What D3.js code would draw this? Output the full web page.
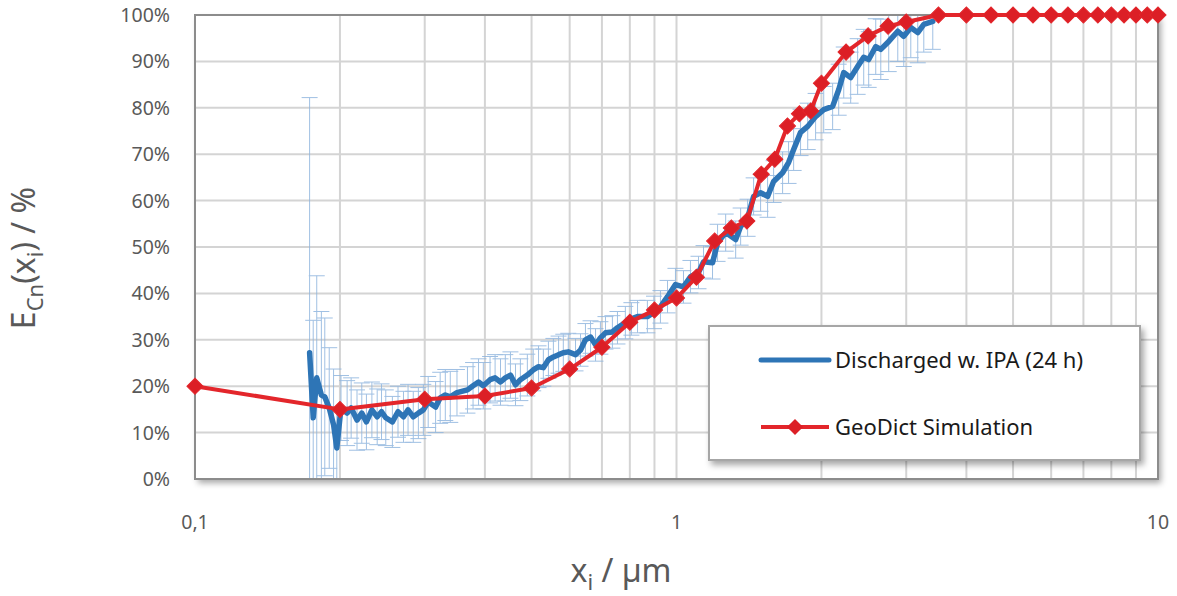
<!DOCTYPE html>
<html>
<head>
<meta charset="utf-8">
<script src="https://cdn.jsdelivr.net/npm/d3@7"></script>
<style>
  body { margin: 0; background: #fff; }
  text { font-family: "Noto Sans", "Open Sans", sans-serif; }
</style>
</head>
<body>
<div id="chart"></div>
<script>
// Measured data: Discharged w. IPA (24 h)
var measX = [0.173,0.176,0.179,0.183,0.186,0.190,0.194,0.197,0.201,0.207,0.211,0.217,0.222,0.227,0.233,0.239,0.244,0.249,0.257,0.264,0.271,0.277,0.284,0.291,0.298,0.305,0.316,0.323,0.331,0.339,0.350,0.368,0.378,0.388,0.397,0.410,0.420,0.431,0.441,0.452,0.463,0.474,0.490,0.504,0.517,0.529,0.542,0.555,0.569,0.582,0.596,0.617,0.632,0.647,0.663,0.679,0.695,0.712,0.736,0.754,0.783,0.806,0.830,0.870,0.898,0.926,0.958,0.995,1.034,1.069,1.111,1.138,1.188,1.217,1.265,1.327,1.359,1.405,1.446,1.495,1.546,1.591,1.661,1.709,1.751,1.810,1.873,1.945,2.022,2.110,2.172,2.225,2.300,2.378,2.448,2.507,2.593,2.656,2.759,2.881,2.965,3.066,3.170,3.263,3.406];
var measY = [27.2,13.2,21.8,18.1,17.7,15.3,11.7,6.7,15.3,14.2,15.3,12.7,14.2,12.3,14.9,13.4,14.5,13.2,12.3,14.5,13.4,14.9,13.4,14.2,14.9,16.6,15.5,17.5,18.1,17.7,18.6,19.2,20.1,20.9,20.1,21.4,21.8,20.9,21.8,22.4,20.3,21.4,22.4,23.5,24.2,24.0,25.7,26.3,26.8,27.2,27.4,26.8,27.8,30.0,30.6,28.9,30.4,31.5,31.7,32.6,33.7,34.5,35.0,35.0,35.9,37.1,39.3,41.9,41.4,43.6,44.5,46.8,46.6,50.9,53.1,51.6,54.4,56.3,60.9,61.7,60.9,64.1,66.0,68.2,71.0,74.7,76.0,78.1,79.6,80.3,83.9,87.6,86.5,88.9,90.9,90.4,93.2,92.6,94.3,96.5,95.4,97.3,96.2,98.0,98.6];
var measErr = [55,21,22,18,17,13,12,8,7,7,6.5,6.5,6.5,6,6,6,6,6,5.5,5.5,5.5,5.5,5.5,5.5,5.5,5.5,5.5,5.5,5.5,5.5,5,5,5,5,5,5,5,5,5,5,4.5,4.5,4.5,4.5,4.5,4,4,4,4,4,4,3.5,3.5,3.5,3.5,3.5,3.5,3.5,3.5,3.5,3.5,3.5,3.5,3.5,3.5,3.5,3.5,3.5,3.5,3.5,3.5,3.5,3.5,4,4,4,4,4,4,4,4.5,4.5,4.5,4.5,4.5,5,5,5,5,5,5.5,5.5,5.5,6,6,6,6,6.5,6.5,6.5,6.5,6.5,6.5,6,6];

// GeoDict Simulation
var simX = [0.1,0.2,0.3,0.4,0.5,0.6,0.7,0.8,0.9,1.0,1.1,1.2,1.3,1.4,1.5,1.6,1.7,1.8,1.9,2.0,2.25,2.5,2.75,3.0,3.5,4.0,4.5,5.0,5.5,6.0,6.5,7.0,7.5,8.0,8.5,9.0,9.5,10.0];
var simY = [20,15,17.2,17.9,19.6,23.7,28.4,33.8,36.4,39.0,43.5,51.3,54.1,55.6,65.7,68.9,76.1,78.7,79.3,85.3,92.0,95.5,97.6,98.5,100,100,100,100,100,100,100,100,100,100,100,100,100,100];

var xTicks = [0.1, 1, 10];
var xGrid = [0.2,0.3,0.4,0.5,0.6,0.7,0.8,0.9,1,2,3,4,5,6,7,8,9];
var yTicks = [0,10,20,30,40,50,60,70,80,90,100];

var seriesNames = ["Discharged w. IPA (24 h)", "GeoDict Simulation"];

var svgWidth = 1177;
var svgHeight = 596;
var margin = { top: 15, right: 19, bottom: 117, left: 195 };
var width = svgWidth - margin.left - margin.right;
var height = svgHeight - margin.top - margin.bottom;

var blue = "#2e75b6";
var red = "#e3262b";
var textGray = "#595959";

var svg = d3.select("#chart").append("svg")
    .attr("width", svgWidth)
    .attr("height", svgHeight);

var defs = svg.append("defs");
var shadow = defs.append("filter").attr("id", "shadow")
    .attr("x", "-5%").attr("y", "-5%").attr("width", "112%").attr("height", "115%");
shadow.append("feDropShadow")
    .attr("dx", 3).attr("dy", 4).attr("stdDeviation", 3)
    .attr("flood-color", "#000").attr("flood-opacity", 0.35);

defs.append("clipPath").attr("id", "plotClip")
    .append("rect").attr("x", 0).attr("y", 0).attr("width", width).attr("height", height);

var chartGroup = svg.append("g")
    .attr("transform", `translate(${margin.left}, ${margin.top})`);

var x = d3.scaleLog().domain([0.1, 10]).range([0, width]);
var y = d3.scaleLinear().domain([0, 100]).range([height, 0]);

// plot background with shadow
chartGroup.append("rect")
    .attr("width", width).attr("height", height)
    .attr("fill", "#fff")
    .attr("filter", "url(#shadow)");

// grid lines
chartGroup.append("g").selectAll("line.h")
    .data(yTicks.slice(1, -1)).enter().append("line")
    .attr("x1", 0).attr("x2", width)
    .attr("y1", d => y(d)).attr("y2", d => y(d))
    .attr("stroke", "#d4d4d4").attr("stroke-width", 2);

chartGroup.append("g").selectAll("line.v")
    .data(xGrid).enter().append("line")
    .attr("x1", d => x(d)).attr("x2", d => x(d))
    .attr("y1", 0).attr("y2", height)
    .attr("stroke", "#d4d4d4").attr("stroke-width", 2);

// error bars
var meas = measX.map((d, i) => ({ x: d, y: measY[i], e: measErr[i] }));
var errGroup = chartGroup.append("g").attr("clip-path", "url(#plotClip)")
    .attr("stroke", "#8fb5de").attr("stroke-width", 1).attr("opacity", 0.85);

errGroup.selectAll("line.bar").data(meas).enter().append("line")
    .attr("x1", d => x(d.x)).attr("x2", d => x(d.x))
    .attr("y1", d => y(Math.min(100, d.y + d.e)))
    .attr("y2", d => y(Math.max(0, d.y - d.e)));
errGroup.selectAll("line.top").data(meas).enter().append("line")
    .attr("x1", d => x(d.x) - 8).attr("x2", d => x(d.x) + 8)
    .attr("y1", d => y(d.y + d.e)).attr("y2", d => y(d.y + d.e));
errGroup.selectAll("line.bot").data(meas).enter().append("line")
    .attr("x1", d => x(d.x) - 8).attr("x2", d => x(d.x) + 8)
    .attr("y1", d => y(d.y - d.e)).attr("y2", d => y(d.y - d.e));

// frame
chartGroup.append("rect")
    .attr("width", width).attr("height", height)
    .attr("fill", "none").attr("stroke", "#8c8c8c").attr("stroke-width", 2);

// measured line
var line = d3.line().x(d => x(d.x)).y(d => y(d.y));
chartGroup.append("path")
    .datum(meas)
    .attr("d", line)
    .attr("fill", "none")
    .attr("stroke", blue)
    .attr("stroke-width", 5.5)
    .attr("stroke-linejoin", "round")
    .attr("stroke-linecap", "round");

// simulation line and markers
var sim = simX.map((d, i) => ({ x: d, y: simY[i] }));
chartGroup.append("path")
    .datum(sim)
    .attr("d", line)
    .attr("fill", "none")
    .attr("stroke", red)
    .attr("stroke-width", 4)
    .attr("stroke-linejoin", "round");

var diamond = d3.symbol().type(d3.symbolSquare).size(130);
chartGroup.selectAll(".marker").data(sim).enter().append("path")
    .attr("d", diamond)
    .attr("transform", d => `translate(${x(d.x)},${y(d.y)}) rotate(45)`)
    .attr("fill", "#dc1f26")
    .attr("stroke", "#e3262b")
    .attr("stroke-width", 1);

// y tick labels
chartGroup.selectAll(".ytick").data(yTicks).enter().append("text")
    .attr("x", -25).attr("y", d => y(d)).attr("dy", "0.36em")
    .attr("text-anchor", "end")
    .attr("font-size", "19.5px").attr("fill", textGray)
    .text(d => d + "%");

// x tick labels
chartGroup.selectAll(".xtick").data(xTicks).enter().append("text")
    .attr("x", d => x(d)).attr("y", height + 50)
    .attr("text-anchor", "middle")
    .attr("font-size", "19.5px").attr("fill", textGray)
    .text(d => String(d).replace(".", ","));

// axis titles
var yTitle = svg.append("text")
    .attr("transform", "translate(35, 258) rotate(-90)")
    .attr("text-anchor", "middle")
    .attr("font-size", "32px").attr("fill", textGray);
yTitle.append("tspan").text("E");
yTitle.append("tspan").attr("font-size", "22px").attr("dy", 8).text("Cn");
yTitle.append("tspan").attr("dy", -8).text("(x");
yTitle.append("tspan").attr("font-size", "22px").attr("dy", 8).text("i");
yTitle.append("tspan").attr("dy", -8).text(") / %");

var xTitle = svg.append("text")
    .attr("x", 621).attr("y", 582)
    .attr("text-anchor", "middle")
    .attr("font-size", "32px").attr("fill", textGray);
xTitle.append("tspan").text("x");
xTitle.append("tspan").attr("font-size", "22px").attr("dy", 8).text("i");
xTitle.append("tspan").attr("dy", -8).text(" / µm");

// legend
var legend = svg.append("g").attr("transform", "translate(709, 326)");
legend.append("rect")
    .attr("width", 431).attr("height", 134)
    .attr("fill", "#fff").attr("stroke", "#a6a6a6").attr("stroke-width", 2)
    .attr("filter", "url(#shadow)");

legend.append("line")
    .attr("x1", 52).attr("x2", 120).attr("y1", 34).attr("y2", 34)
    .attr("stroke", blue).attr("stroke-width", 5).attr("stroke-linecap", "round");
legend.append("text")
    .attr("x", 126).attr("y", 34).attr("dy", "0.36em")
    .attr("font-size", "22px").attr("fill", "#1a1a1a")
    .text(seriesNames[0]);

legend.append("line")
    .attr("x1", 52).attr("x2", 120).attr("y1", 101).attr("y2", 101)
    .attr("stroke", red).attr("stroke-width", 4);
legend.append("path")
    .attr("d", diamond)
    .attr("transform", "translate(86,101) rotate(45)")
    .attr("fill", "#dc1f26");
legend.append("text")
    .attr("x", 126).attr("y", 101).attr("dy", "0.36em")
    .attr("font-size", "22px").attr("fill", "#1a1a1a")
    .text(seriesNames[1]);
</script>
</body>
</html>
